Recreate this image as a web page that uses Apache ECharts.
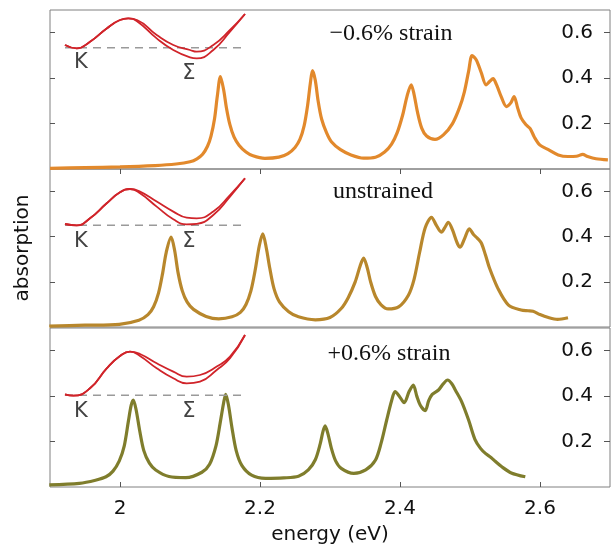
<!DOCTYPE html>
<html>
<head>
<meta charset="utf-8">
<script src="https://cdn.jsdelivr.net/npm/echarts@6/dist/echarts.min.js"></script>
<style>
  html, body { margin: 0; padding: 0; background: #fff; }
  #chart { width: 613px; height: 549px; }
</style>
</head>
<body>
<div id="chart"></div>
<script>
// tick labels
const energyTicks = [2, 2.2, 2.4, 2.6];
const absTicks = [0.2, 0.4, 0.6];
const panelLabels = ['\u22120.6% strain', 'unstrained', '+0.6% strain'];

// absorption spectra [energy eV, absorption]
const specMinus = [
  [1.90, 0.003], [1.95, 0.006], [2.00, 0.009], [2.05, 0.015], [2.08, 0.022], [2.10, 0.032],
  [2.110, 0.045], [2.118, 0.065], [2.125, 0.10], [2.130, 0.145], [2.135, 0.22], [2.139, 0.32],
  [2.1435, 0.407], [2.148, 0.35], [2.152, 0.27], [2.157, 0.195], [2.163, 0.14], [2.170, 0.105],
  [2.180, 0.075], [2.190, 0.058], [2.207, 0.047], [2.227, 0.052], [2.240, 0.068], [2.250, 0.095],
  [2.257, 0.13], [2.263, 0.19], [2.268, 0.28], [2.272, 0.38], [2.275, 0.433], [2.279, 0.39],
  [2.283, 0.30], [2.288, 0.22], [2.295, 0.16], [2.302, 0.12], [2.315, 0.085], [2.330, 0.062],
  [2.348, 0.048], [2.365, 0.052], [2.378, 0.075], [2.388, 0.11], [2.396, 0.16], [2.404, 0.24],
  [2.410, 0.32], [2.416, 0.371], [2.420, 0.33], [2.425, 0.25], [2.431, 0.18], [2.438, 0.145],
  [2.450, 0.13], [2.462, 0.15], [2.475, 0.2], [2.485, 0.27], [2.492, 0.34], [2.498, 0.43],
  [2.503, 0.499], [2.509, 0.48], [2.516, 0.425], [2.523, 0.37], [2.528, 0.385], [2.533, 0.398],
  [2.538, 0.37], [2.545, 0.315], [2.552, 0.275], [2.558, 0.29], [2.563, 0.319], [2.568, 0.27],
  [2.573, 0.225], [2.580, 0.195], [2.586, 0.178], [2.592, 0.14], [2.600, 0.105], [2.612, 0.085],
  [2.626, 0.062], [2.640, 0.055], [2.652, 0.056], [2.661, 0.064], [2.668, 0.055], [2.680, 0.045],
  [2.697, 0.04]
];
const specZero = [
  [1.899, 0.004], [1.95, 0.008], [1.999, 0.012], [2.027, 0.03], [2.040, 0.055], [2.048, 0.09],
  [2.055, 0.15], [2.061, 0.24], [2.066, 0.33], [2.073, 0.398], [2.078, 0.34], [2.083, 0.24],
  [2.089, 0.16], [2.096, 0.11], [2.105, 0.078], [2.123, 0.047], [2.141, 0.036], [2.160, 0.045],
  [2.172, 0.065], [2.180, 0.10], [2.187, 0.16], [2.193, 0.25], [2.199, 0.36], [2.204, 0.413],
  [2.209, 0.35], [2.214, 0.26], [2.220, 0.17], [2.228, 0.11], [2.241, 0.068], [2.255, 0.045],
  [2.279, 0.032], [2.300, 0.042], [2.316, 0.082], [2.326, 0.13], [2.336, 0.2], [2.343, 0.27],
  [2.348, 0.305], [2.353, 0.265], [2.358, 0.2], [2.365, 0.135], [2.373, 0.098], [2.383, 0.08],
  [2.398, 0.089], [2.412, 0.141], [2.420, 0.21], [2.428, 0.33], [2.436, 0.44], [2.445, 0.486],
  [2.452, 0.45], [2.459, 0.42], [2.464, 0.44], [2.469, 0.464], [2.475, 0.43], [2.482, 0.37],
  [2.486, 0.354], [2.492, 0.39], [2.499, 0.435], [2.505, 0.41], [2.510, 0.395], [2.516, 0.373],
  [2.522, 0.32], [2.528, 0.26], [2.540, 0.17], [2.555, 0.097], [2.573, 0.075], [2.583, 0.072],
  [2.590, 0.07], [2.600, 0.055], [2.612, 0.042], [2.625, 0.034], [2.640, 0.041]
];
const specPlus = [
  [1.899, 0.009], [1.942, 0.016], [1.965, 0.03], [1.980, 0.045], [1.990, 0.07], [1.999, 0.115],
  [2.006, 0.18], [2.012, 0.29], [2.016, 0.36], [2.019, 0.383], [2.023, 0.34], [2.028, 0.25],
  [2.034, 0.16], [2.042, 0.105], [2.051, 0.075], [2.070, 0.046], [2.094, 0.041], [2.117, 0.065],
  [2.128, 0.10], [2.137, 0.18], [2.143, 0.28], [2.148, 0.37], [2.151, 0.408], [2.155, 0.36],
  [2.160, 0.26], [2.166, 0.16], [2.174, 0.095], [2.188, 0.052], [2.208, 0.038], [2.234, 0.04],
  [2.255, 0.047], [2.269, 0.075], [2.279, 0.12], [2.286, 0.19], [2.290, 0.245], [2.293, 0.269],
  [2.297, 0.235], [2.302, 0.17], [2.308, 0.115], [2.316, 0.082], [2.334, 0.06], [2.351, 0.075],
  [2.365, 0.119], [2.373, 0.193], [2.381, 0.295], [2.388, 0.38], [2.393, 0.42], [2.399, 0.40],
  [2.406, 0.371], [2.413, 0.42], [2.419, 0.449], [2.424, 0.40], [2.429, 0.36], [2.436, 0.336],
  [2.441, 0.38], [2.446, 0.408], [2.455, 0.427], [2.462, 0.455], [2.468, 0.471], [2.474, 0.455],
  [2.479, 0.427], [2.488, 0.376], [2.498, 0.295], [2.507, 0.21], [2.515, 0.17], [2.522, 0.148],
  [2.530, 0.13], [2.536, 0.113], [2.545, 0.09], [2.559, 0.062], [2.579, 0.045]
];

// inset band sketches [k, energy above dashed level]
const bandLowMinus = [[0, 2.7], [11.7, -0.7], [25, 6], [41.7, 19.3], [55, 27.7], [63.3, 29.3], [72, 26.5],
  [91.7, 9.3], [108.3, -2.3], [125, -9.7], [131.7, -10.7], [148.3, -2.3], [165, 16], [180, 33.7]];
const bandHighMinus = [[0, 2.7], [11.7, -0.7], [25, 6], [41.7, 19.3], [55, 27.7], [63.3, 29.3], [72, 27.7],
  [91.7, 12.7], [108.3, 2.7], [125, -2.3], [131.7, -4], [148.3, 2.7], [165, 17.7], [180, 33.7]];
const bandLowZero = [[0, 1.3], [11.7, 0], [25, 7], [41.7, 22], [55, 33], [65, 36.3], [75, 32],
  [91.7, 18.7], [108.3, 6], [121.7, 1], [131.7, 1.5], [148.3, 10.3], [165, 28.7], [180, 47]];
const bandHighZero = [[0, 1.3], [11.7, 0], [25, 7], [41.7, 22], [55, 33], [65, 36.3], [75, 33.7],
  [91.7, 23.7], [108.3, 13.7], [121.7, 7.7], [131.7, 7], [148.3, 13.7], [165, 30.3], [180, 47]];
const bandLowPlus = [[0, 1], [8.3, -0.3], [25, 7], [41.7, 27], [55, 39.3], [65, 43.7], [75, 39.3],
  [91.7, 27], [108.3, 17], [121.7, 12], [135, 13.7], [151.7, 25.3], [165, 37], [180, 60.3]];
const bandHighPlus = [[0, 1], [8.3, -0.3], [25, 7], [41.7, 27], [55, 39.3], [65, 43.7], [75, 41.3],
  [91.7, 32], [108.3, 23.7], [121.7, 18.7], [135, 20.3], [151.7, 28.7], [165, 38.7], [180, 60.3]];
const dashLevel = [[0, 0], [180, 0]];
const pointLabelsMinus = [[16, -15, 'K'], [124, -26, '\u03a3']];
const pointLabelsZero = [[16, -16, 'K'], [124, -16, '\u03a3']];
const pointLabelsPlus = [[16, -16, 'K'], [124, -16, '\u03a3']];

const spectra = [specMinus, specZero, specPlus];
const bandsLow = [bandLowMinus, bandLowZero, bandLowPlus];
const bandsHigh = [bandHighMinus, bandHighZero, bandHighPlus];
const pointLabels = [pointLabelsMinus, pointLabelsZero, pointLabelsPlus];

const colors = ['#e2892c', '#b8872c', '#7f7d2c'];
const sansFont = 'DejaVu Sans';
const serifFont = 'Liberation Serif';

const panelTops = [10, 169, 328];
const panelHeights = [159, 158, 159];
const insetMax = [45, 50, 65];
const insetDash = [47.7, 225.3, 395.3];
const labelPos = [[391, 34], [383, 192], [389, 354]];

const chart = echarts.init(document.getElementById('chart'));

const grid = [], xAxis = [], yAxis = [], series = [], graphic = [];

for (let i = 0; i < 3; i++) {
  grid.push({
    left: 50, right: 3, top: panelTops[i], height: panelHeights[i],
    show: true, borderColor: '#808080', borderWidth: 1, backgroundColor: 'transparent'
  });
}
for (let i = 0; i < 3; i++) {
  grid.push({ left: 65, width: 180, top: insetDash[i] - insetMax[i], height: insetMax[i] + 30 });
}

// main x axes
for (let i = 0; i < 3; i++) {
  const ax = {
    type: 'value', gridIndex: i, min: 1.9, max: 2.7,
    position: i === 0 ? 'top' : 'bottom',
    axisLine: { show: false },
    splitLine: { show: false },
    axisTick: { show: i !== 1, inside: true, length: 5, customValues: energyTicks, lineStyle: { color: '#555' } },
    axisLabel: { show: i === 2, customValues: energyTicks, margin: 12, color: '#111', fontFamily: sansFont, fontSize: 20 }
  };
  if (i === 2) {
    ax.name = 'energy (eV)';
    ax.nameLocation = 'middle';
    ax.nameGap = 38;
    ax.nameTextStyle = { color: '#111', fontFamily: sansFont, fontSize: 20 };
  }
  xAxis.push(ax);
}
// main y axes: right (labels) + left (ticks only)
for (let i = 0; i < 3; i++) {
  yAxis.push({
    type: 'value', gridIndex: i, min: 0, max: 0.7, position: 'right',
    axisLine: { show: false }, splitLine: { show: false },
    axisTick: { inside: true, length: 6, customValues: absTicks, lineStyle: { color: '#555' } },
    axisLabel: { inside: true, margin: 17, customValues: absTicks, color: '#111', fontFamily: sansFont, fontSize: 20 }
  });
}
for (let i = 0; i < 3; i++) {
  const ax = {
    type: 'value', gridIndex: i, min: 0, max: 0.7, position: 'left',
    axisLine: { show: false }, splitLine: { show: false },
    axisTick: { inside: true, length: 5, customValues: absTicks, lineStyle: { color: '#555' } },
    axisLabel: { show: false }
  };
  if (i === 1) {
    ax.name = 'absorption';
    ax.nameLocation = 'middle';
    ax.nameGap = 17;
    ax.nameTextStyle = { color: '#111', fontFamily: sansFont, fontSize: 20 };
  }
  yAxis.push(ax);
}
// inset axes (hidden)
for (let i = 0; i < 3; i++) {
  xAxis.push({ type: 'value', gridIndex: 3 + i, min: 0, max: 180, show: false });
  yAxis.push({ type: 'value', gridIndex: 3 + i, min: -30, max: insetMax[i], show: false });
}

for (let i = 0; i < 3; i++) {
  series.push({
    type: 'line', xAxisIndex: i, yAxisIndex: i, data: spectra[i],
    showSymbol: false, smooth: 0.3, clip: true,
    lineStyle: { color: colors[i], width: 3.2 }, z: 3
  });
  const ix = 3 + i, iy = 6 + i;
  series.push({
    type: 'line', xAxisIndex: ix, yAxisIndex: iy, data: dashLevel, showSymbol: false, clip: false,
    lineStyle: { color: '#9a9a9a', width: 1.5, type: [8, 6] }, z: 4
  });
  series.push({
    type: 'line', xAxisIndex: ix, yAxisIndex: iy, data: bandsLow[i], showSymbol: false, smooth: 0.5, clip: false,
    lineStyle: { color: '#d0242a', width: 1.8 }, z: 5
  });
  series.push({
    type: 'line', xAxisIndex: ix, yAxisIndex: iy, data: bandsHigh[i], showSymbol: false, smooth: 0.5, clip: false,
    lineStyle: { color: '#d0242a', width: 1.8 }, z: 5
  });
  series.push({
    type: 'scatter', xAxisIndex: ix, yAxisIndex: iy, data: pointLabels[i], symbolSize: 1,
    itemStyle: { color: 'rgba(0,0,0,0)' }, silent: true, z: 6,
    label: {
      show: true, position: 'inside', formatter: p => p.value[2],
      color: '#111', fontFamily: sansFont, fontSize: 21
    }
  });
  graphic.push({
    type: 'text', x: labelPos[i][0], y: labelPos[i][1], z: 10,
    style: {
      text: panelLabels[i], fill: '#111', font: '24px "' + serifFont + '"',
      textAlign: 'center', textVerticalAlign: 'middle'
    }
  });
}

chart.setOption({
  animation: false,
  backgroundColor: '#fff',
  grid: grid,
  xAxis: xAxis,
  yAxis: yAxis,
  series: series,
  graphic: graphic
});
</script>
</body>
</html>
